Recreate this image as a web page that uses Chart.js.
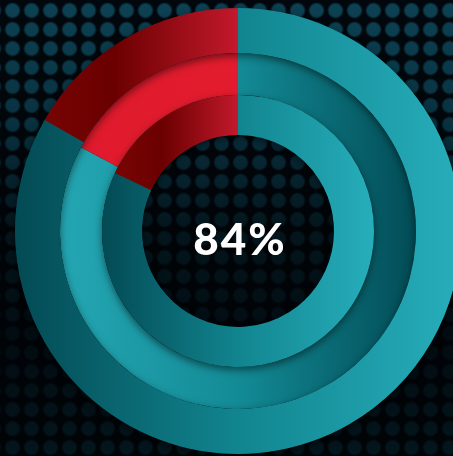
<!DOCTYPE html>
<html>
<head>
<meta charset="utf-8">
<script src="https://cdn.jsdelivr.net/npm/chart.js@4"></script>
<style>
  html, body {
    margin: 0;
    padding: 0;
    width: 453px;
    height: 456px;
    overflow: hidden;
  }
  body {
    position: relative;
    background-color: #01070c;
    background-image:
      linear-gradient(to bottom, rgba(1,5,9,0) 0%, rgba(1,5,9,0.25) 25%, rgba(0,3,6,0.7) 50%, rgba(0,3,6,0.85) 75%, rgba(0,3,6,0.7) 100%),
      radial-gradient(circle, rgba(14,76,96,0.85) 0, rgba(14,76,96,0.85) 6px, rgba(14,76,96,0) 8.5px);
    background-size: 453px 456px, 19px 19px;
    background-position: 0 0, 3px 1px;
  }
  #wrap {
    position: absolute;
    left: 0;
    top: 0;
    width: 470px;
    height: 456px;
  }
  #center {
    position: absolute;
    left: 0;
    top: 216px;
    width: 476px;
    text-align: center;
    font-family: Lato, "Open Sans", sans-serif;
    font-weight: 900;
    font-size: 44px;
    line-height: 44px;
    letter-spacing: 2px;
    padding-left: 2px;
    color: #ffffff;
  }
</style>
</head>
<body>
<div id="wrap"><canvas id="myChart" width="470" height="456"></canvas></div>
<div id="center"></div>
<script>
// values (the divider is not quite radial, so each ring differs a bit)
var labels = ['Achieved', 'Remaining'];
var outerRing = [83.3, 16.7];
var middleRing = [82.8, 17.2];
var innerRing = [82, 18];
var centerLabel = '84%';

document.getElementById('center').textContent = centerLabel;

// radii in px used for gradients (outer 223, cutout 96)
var ringEdges = [[178, 223], [136, 178], [96, 136]];

function ringGradient(chart, ring, stops) {
    var a = chart.chartArea;
    if (!a) return stops[0][1];
    var cx = (a.left + a.right) / 2;
    var r = ringEdges[ring][1];
    var g = chart.ctx.createLinearGradient(cx - r, 0, cx + r, 0);
    stops.forEach(function (s) { g.addColorStop(s[0], s[1]); });
    return g;
}

var tealDarkToLight = [[0, '#034a54'], [0.5, '#11858f'], [1, '#27aebb']];
var tealLightToDark = [[0, '#24a7b3'], [0.5, '#138b96'], [1, '#024c56']];
var redDark = [[0, '#7c0606'], [0.22, '#6a0000'], [0.5, '#c3192c'], [1, '#d41c2e']];
var redBright = [[0, '#df1a2c'], [1, '#e61f30']];

function colors(ring, tealStops, redStops) {
    return function (c) {
        return ringGradient(c.chart, ring, c.dataIndex === 0 ? tealStops : redStops);
    };
}

// soft shadow under the outer and inner rings, falls onto the middle ring
var ringShadow = {
    id: 'ringShadow',
    beforeDatasetDraw: function (chart, args) {
        if (args.index === 1) return;
        var el = args.meta.data[0];
        if (!el) return;
        var ctx = chart.ctx;
        ctx.save();
        ctx.shadowColor = 'rgba(0,0,0,0.55)';
        ctx.shadowBlur = 8;
        ctx.shadowOffsetY = 3;
        ctx.fillStyle = '#0a5a63';
        ctx.beginPath();
        ctx.arc(el.x, el.y, el.outerRadius - 0.5, 0, Math.PI * 2);
        ctx.arc(el.x, el.y, el.innerRadius + 0.5, 0, Math.PI * 2, true);
        ctx.fill();
        ctx.restore();
    }
};

var ctx = document.getElementById('myChart').getContext('2d');

var myChart = new Chart(ctx, {
    type: 'doughnut',
    data: {
        labels: labels,
        datasets: [{
            data: outerRing,
            weight: 45,
            order: 1,
            backgroundColor: colors(0, tealDarkToLight, redDark),
            borderWidth: 0
        }, {
            data: middleRing,
            weight: 42,
            order: 2,
            backgroundColor: colors(1, tealLightToDark, redBright),
            borderWidth: 0
        }, {
            data: innerRing,
            weight: 40,
            order: 1,
            backgroundColor: colors(2, tealDarkToLight, redDark),
            borderWidth: 0
        }]
    },
    options: {
        responsive: false,
        animation: false,
        cutout: 96,
        layout: { padding: { left: 15, top: 8, right: 9, bottom: 2 } },
        plugins: {
            legend: { display: false },
            tooltip: { enabled: false }
        }
    },
    plugins: [ringShadow]
});
</script>
</body>
</html>
